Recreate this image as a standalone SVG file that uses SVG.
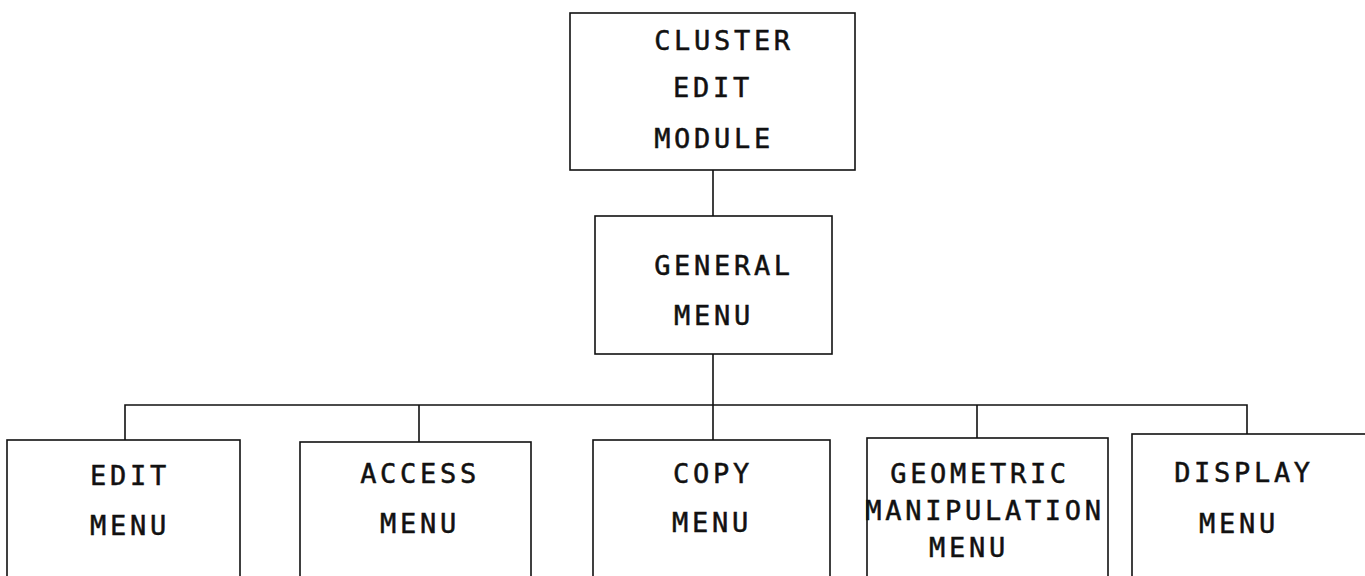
<svg xmlns="http://www.w3.org/2000/svg" width="1365" height="576" viewBox="0 0 1365 576">
<style>
.box{fill:none;stroke:#111;stroke-width:1.6}
.ln{fill:none;stroke:#111;stroke-width:1.6}
text{font-family:"DejaVu Sans Mono","Liberation Mono",monospace;font-size:27px;letter-spacing:3.7px;fill:#111;stroke:#111;stroke-width:0.5;text-anchor:middle}
</style>
<rect width="1365" height="576" fill="#fff"/>
<g id="connectors">
<path class="ln" d="M713 170V216M713 354V405M125 440V405H1247V434M419 405V442M977 405V438M713 405V440"/>
</g>
<g id="cluster-edit-module">
<rect class="box" x="570" y="13" width="285" height="157"/>
<text x="724" y="50">CLUSTER</text>
<text x="713" y="97">EDIT</text>
<text x="714" y="148">MODULE</text>
</g>
<g id="general-menu">
<rect class="box" x="595" y="216" width="237" height="138"/>
<text x="724" y="275">GENERAL</text>
<text x="714" y="325">MENU</text>
</g>
<g id="edit-menu">
<rect class="box" x="7" y="440" width="233" height="150"/>
<text x="130" y="485">EDIT</text>
<text x="130" y="535">MENU</text>
</g>
<g id="access-menu">
<rect class="box" x="300" y="442" width="231" height="150"/>
<text x="420" y="483">ACCESS</text>
<text x="420" y="533">MENU</text>
</g>
<g id="copy-menu">
<rect class="box" x="593" y="440" width="237" height="150"/>
<text x="713" y="483">COPY</text>
<text x="712" y="532">MENU</text>
</g>
<g id="geometric-manipulation-menu">
<rect class="box" x="867" y="438" width="241" height="150"/>
<text x="980" y="483">GEOMETRIC</text>
<text x="985" y="520">MANIPULATION</text>
<text x="969" y="557">MENU</text>
</g>
<g id="display-menu">
<rect class="box" x="1132" y="434" width="250" height="160"/>
<text x="1244" y="482">DISPLAY</text>
<text x="1239" y="533">MENU</text>
</g>
</svg>
